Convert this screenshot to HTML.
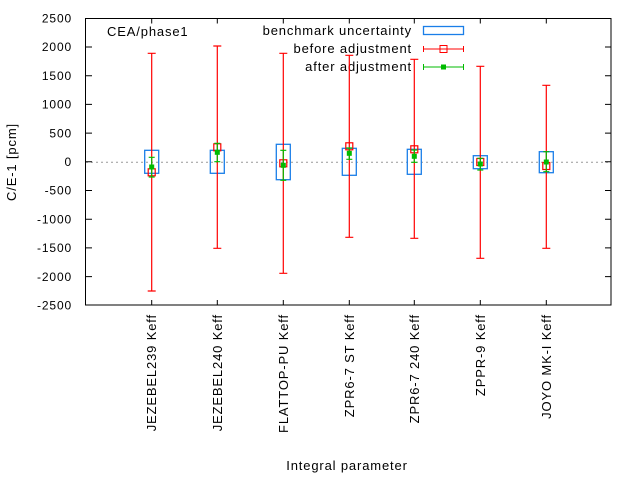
<!DOCTYPE html><html><head><style>body{margin:0;background:#fff}svg{display:block;font-family:"Liberation Sans",sans-serif}text{letter-spacing:0.85px}</style></head><body>
<svg width="640" height="480" xmlns="http://www.w3.org/2000/svg">
<g font-size="12" fill="#000" text-anchor="end">
<text x="72" y="22.5">2500</text><text x="72" y="51.2">2000</text><text x="72" y="79.9">1500</text><text x="72" y="108.6">1000</text><text x="72" y="137.3">500</text><text x="72" y="166">0</text><text x="72" y="194.7">-500</text><text x="72" y="223.4">-1000</text><text x="72" y="252.1">-1500</text><text x="72" y="280.8">-2000</text><text x="72" y="309.5">-2500</text>
</g>
<text transform="translate(16,162) rotate(-90)" font-size="13" text-anchor="middle">C/E-1 [pcm]</text>
<text x="347" y="470" font-size="13" text-anchor="middle">Integral parameter</text>
<text x="107" y="36" font-size="13">CEA/phase1</text>
<line x1="86" y1="162.3" x2="611" y2="162.3" stroke="#999" stroke-dasharray="2,3"/>
<g stroke="#000" stroke-width="1">
<rect x="85.5" y="18.5" width="525.5" height="286.5" fill="none"/>
<path d="M86 47h6M86 75.7h6M86 104.4h6M86 133.1h6M86 161.8h6M86 190.5h6M86 219.2h6M86 247.9h6M86 276.6h6M611 47h-6M611 75.7h-6M611 104.4h-6M611 133.1h-6M611 161.8h-6M611 190.5h-6M611 219.2h-6M611 247.9h-6M611 276.6h-6"/>
<path d="M151.7 305v-5M217.3 305v-5M283.3 305v-5M349.3 305v-5M414.3 305v-5M480.3 305v-5M546.3 305v-5M151.7 18.5v5M217.3 18.5v5M283.3 18.5v5M349.3 18.5v5M414.3 18.5v5M480.3 18.5v5M546.3 18.5v5"/>
</g>
<g font-size="13" text-anchor="end">
<text transform="translate(156,314) rotate(-90)">JEZEBEL239 Keff</text>
<text transform="translate(222,314) rotate(-90)">JEZEBEL240 Keff</text>
<text transform="translate(288,314) rotate(-90)">FLATTOP-PU Keff</text>
<text transform="translate(354,314) rotate(-90)">ZPR6-7 ST Keff</text>
<text transform="translate(419,314) rotate(-90)">ZPR6-7 240 Keff</text>
<text transform="translate(485,314) rotate(-90)">ZPPR-9 Keff</text>
<text transform="translate(551,314) rotate(-90)">JOYO MK-I Keff</text>
</g>
<g font-size="13" text-anchor="end">
<text x="412" y="35">benchmark uncertainty</text>
<text x="412" y="53">before adjustment</text>
<text x="412" y="71">after adjustment</text>
</g>
<rect x="423.5" y="26.5" width="40" height="8" fill="none" stroke="#1a7ee8" stroke-width="1.3"/>
<path d="M423.5 49h40M423.5 46v6M463.5 46v6" stroke="#f00"/><rect x="440" y="45.5" width="7" height="7" fill="none" stroke="#f00"/>
<path d="M423.5 67h40M423.5 64v6M463.5 64v6" stroke="#0b0"/><rect x="441" y="64.5" width="5" height="5" fill="#0b0"/>
<g fill="none" stroke="#1a7ee8" stroke-width="1.3">
<rect x="144.7" y="150.3" width="14" height="23"/>
<rect x="210.3" y="150.3" width="14" height="23"/>
<rect x="276.3" y="144.3" width="14" height="35.4"/>
<rect x="342.3" y="148.3" width="14" height="27"/>
<rect x="407.3" y="149.3" width="14" height="25"/>
<rect x="473.3" y="155.7" width="14" height="13"/>
<rect x="539.3" y="151.7" width="14" height="21"/>
</g>
<g stroke="#f00" stroke-width="1.2" fill="none">
<path d="M151.7 53.3V291M147.7 53.3h8M147.7 291h8"/>
<path d="M217.3 46V248.3M213.3 46h8M213.3 248.3h8"/>
<path d="M283.3 53.3V273.3M279.3 53.3h8M279.3 273.3h8"/>
<path d="M349.3 55.3V237.3M345.3 55.3h8M345.3 237.3h8"/>
<path d="M414.3 59.3V238.3M410.3 59.3h8M410.3 238.3h8"/>
<path d="M480.3 66.3V258.3M476.3 66.3h8M476.3 258.3h8"/>
<path d="M546.3 85.3V248.3M542.3 85.3h8M542.3 248.3h8"/>
<rect x="148.2" y="168.8" width="7" height="7"/>
<rect x="213.8" y="143.8" width="7" height="7"/>
<rect x="279.8" y="159.8" width="7" height="7"/>
<rect x="345.8" y="142.8" width="7" height="7"/>
<rect x="410.8" y="145.8" width="7" height="7"/>
<rect x="476.8" y="158.5" width="7" height="7"/>
<rect x="542.8" y="162.5" width="7" height="7"/>
</g>
<g stroke="#0b0" stroke-width="1.2">
<path d="M151.7 157.3V177M148.7 157.3h6M148.7 177h6"/>
<path d="M217.3 143.3V161.7M214.3 143.3h6M214.3 161.7h6"/>
<path d="M283.3 150.3V180.3M280.3 150.3h6M280.3 180.3h6"/>
<path d="M349.3 148V159.3M346.3 148h6M346.3 159.3h6"/>
<path d="M414.3 150V162.3M411.3 150h6M411.3 162.3h6"/>
<path d="M480.3 158.3V170M477.3 158.3h6M477.3 170h6"/>
<path d="M546.3 151.7V171.7M543.3 151.7h6M543.3 171.7h6"/>
</g>
<g fill="#0b0">
<rect x="149.2" y="164.5" width="5" height="5"/>
<rect x="214.8" y="149.8" width="5" height="5"/>
<rect x="280.8" y="162.8" width="5" height="5"/>
<rect x="346.8" y="150.8" width="5" height="5"/>
<rect x="411.8" y="153.8" width="5" height="5"/>
<rect x="477.8" y="161.5" width="5" height="5"/>
<rect x="543.8" y="159.5" width="5" height="5"/>
</g>
</svg></body></html>
